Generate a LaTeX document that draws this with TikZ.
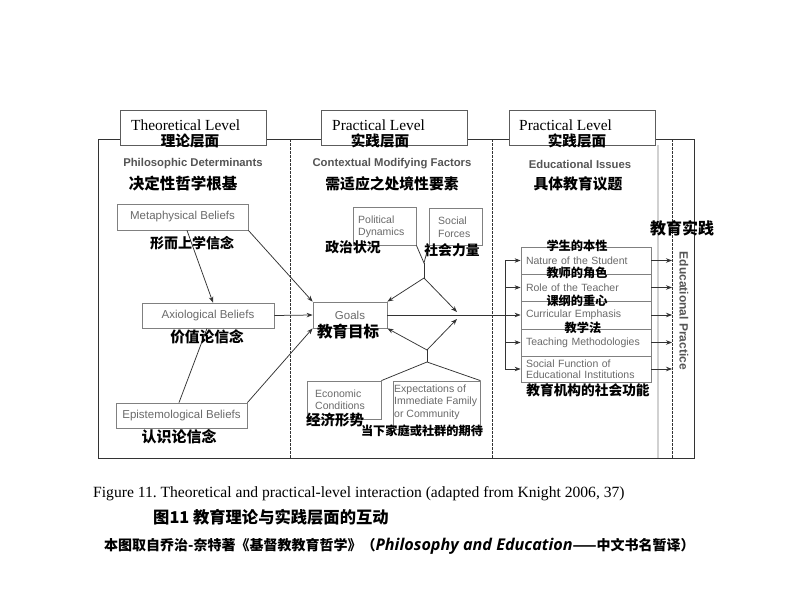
\documentclass[tikz,border=0pt]{standalone}
\usepackage{fontspec}
\setmainfont{Liberation Serif}
\setsansfont{Liberation Sans}
\newfontfamily\cjk{Noto Sans CJK SC}
\newfontfamily\latsans{Open Sans}
\usetikzlibrary{arrows.meta}
\newcommand\zhb[2]{{\cjk\bfseries\fontsize{#1}{#1}\selectfont #2}}
\definecolor{boxtext}{HTML}{6A6A6A}
\definecolor{labgray}{HTML}{555555}
\definecolor{linec}{HTML}{333333}
\definecolor{boxline}{HTML}{808080}
\frenchspacing
\begin{document}
\begin{tikzpicture}[x=1pt,y=-1pt,
  frame/.style={draw=linec, line width=0.9pt},
  dashline/.style={draw=linec, line width=0.8pt, dash pattern=on 2.5pt off 1.5pt},
  hdr/.style={draw=linec!80, fill=white, line width=0.9pt, minimum width=146pt, minimum height=35pt, inner sep=0pt},
  hdrtxt/.style={anchor=west, inner sep=0pt, font=\fontsize{15.4}{16}\selectfont},
  sec/.style={inner sep=0pt, text=labgray, font=\sffamily\bfseries\fontsize{11.3}{12}\selectfont},
  bbox/.style={draw=boxline, fill=white, line width=0.8pt, inner sep=0pt, text=boxtext, font=\sffamily\fontsize{11.5}{12}\selectfont},
  sbox/.style={draw=boxline, fill=white, line width=0.8pt, inner sep=0pt},
  stxt/.style={anchor=west, inner sep=0pt, align=left, text=boxtext, font=\sffamily\fontsize{10.5}{12.5}\selectfont},
  rowbox/.style={draw=boxline, fill=white, line width=0.8pt, minimum width=130pt, inner xsep=5pt, inner ysep=0pt, text width=120pt, align=left, text=boxtext, font=\sffamily\fontsize{10.5}{11.5}\selectfont},
  zh/.style={inner sep=0pt},
  arr/.style={draw=linec, line width=0.75pt, -{Stealth[length=6pt,width=4.5pt]}},
  ln/.style={draw=linec, line width=0.75pt}
]
\useasboundingbox[fill=white] (0,0) rectangle (796,616);

% frame
\draw[frame] (98,139) rectangle (694,458);
\draw[black!18, line width=1.2pt] (658,145) -- (658,458);
\draw[dashline] (290,139) -- (290,458);
\draw[dashline] (492,139) -- (492,458);
\draw[dashline] (672,139) -- (672,458);
\coordinate (bx) at (505,0);
\coordinate (dx) at (672,0);

% headers
\node[hdr] (h1) at (193,127.5) {};
\node[hdr] (h2) at (394.5,127.5) {};
\node[hdr] (h3) at (582,127.5) {};
\node[hdrtxt] (h1t) at (131,125) {Theoretical Level};
\node[hdrtxt] (h2t) at (332,125) {Practical Level};
\node[hdrtxt] (h3t) at (519,125) {Practical Level};
\node[zh] (h1z) at (190,141) {\zhb{14.6}{理论层面}};
\node[zh] (h2z) at (380,141) {\zhb{14.6}{实践层面}};
\node[zh] (h3z) at (577,141) {\zhb{14.6}{实践层面}};

% section labels
\node[sec] (s1) at (193,164) {Philosophic Determinants};
\node[sec] (s2) at (392,164) {Contextual Modifying Factors};
\node[sec] (s3) at (580,164) {Educational Issues};
\node[zh] (s1z) at (183,184) {\zhb{15.5}{决定性哲学根基}};
\node[zh] (s2z) at (392,184) {\zhb{14.8}{需适应之处境性要素}};
\node[zh] (s3z) at (578,184) {\zhb{14.8}{具体教育议题}};

% philosophical beliefs
\node[bbox, minimum width=131pt, minimum height=26pt] (meta) at (182.5,217) {Metaphysical Beliefs};
\node[bbox, minimum width=132pt, minimum height=25pt] (axio) at (208,315.5) {Axiological Beliefs};
\node[bbox, minimum width=131pt, minimum height=25pt] (epis) at (181.5,415.5) {Epistemological Beliefs};
\node[bbox, minimum width=74pt, minimum height=26pt] (goals) at (350,315) {Goals};

\draw[arr] ([xshift=4.5pt]meta.south) -- ([xshift=5pt]axio.north);
\draw[arr] (meta.south east) -- (goals.north west);
\draw[arr] (axio.east) -- (goals.west);
\draw[ln] ([xshift=-2.5pt]epis.north) -- ([xshift=-1pt]axio.south);
\draw[arr] (epis.north east) -- (goals.south west);

\node[zh] (metaz) at (192,243) {\zhb{14}{形而上学信念}};
\node[zh] (axioz) at (207,337) {\zhb{14.7}{价值论信念}};
\node[zh] (episz) at (179,437) {\zhb{15}{认识论信念}};

% contextual factors
\node[sbox, minimum width=63pt, minimum height=38pt] (pol) at (384.5,226) {};
\node[sbox, minimum width=53pt, minimum height=37pt] (soc) at (455.5,226.5) {};
\node[sbox, minimum width=74pt, minimum height=38pt] (eco) at (344,400) {};
\node[sbox, minimum width=87pt, minimum height=48pt] (exp) at (436.5,405) {};
\node[stxt] (polt) at (358,227) {Political\\Dynamics};
\node[stxt] (soct) at (438,227) {Social\\Forces};
\node[stxt] (ecot) at (315,399.5) {Economic\\Conditions};
\node[stxt] (expt) at (394,402) {Expectations of\\Immediate Family\\or Community};

\coordinate (tf) at (424,263);
\coordinate (ts) at (424,278);
\coordinate (mp1) at (457,312);
\coordinate (bf) at (427,362);
\coordinate (bs) at (427,350);
\coordinate (mp2) at (457,319);
\draw[ln] (pol.south east) -- (tf) -- (soc.south west);
\draw[ln] (tf) -- (ts);
\draw[arr] (ts) -- (goals.north east);
\draw[arr] (ts) -- (mp1);
\draw[ln] (eco.north east) -- (bf) -- (exp.north east);
\draw[ln] (bf) -- (bs);
\draw[arr] (bs) -- (goals.south east);
\draw[arr] (bs) -- (mp2);

\node[zh] (polz) at (353,247) {\zhb{13.8}{政治状况}};
\node[zh] (socz) at (452,250) {\zhb{13.8}{社会力量}};
\node[zh] (goalsz) at (348,332) {\zhb{15.5}{教育目标}};
\node[zh] (ecoz) at (335,420) {\zhb{14.5}{经济形势}};
\node[zh] (expz) at (422,431) {\zhb{12.2}{当下家庭或社群的期待}};

% educational issues
\node[rowbox, minimum height=27pt] (r1) at (586,260.5) {Nature of the Student};
\node[rowbox, minimum height=27pt] (r2) at (586,287.5) {Role of the Teacher};
\node[rowbox, minimum height=28pt] (r3) at (586,315) {Curricular Emphasis};
\node[rowbox, minimum height=27pt] (r4) at (586,342.5) {Teaching Methodologies};
\node[rowbox, minimum height=26pt] (r5) at (586,369) {Social Function of\\Educational Institutions};

\draw[ln] (r1.west -| bx) -- (r5.west -| bx);
\draw[arr] (goals.east) -- (r3.west);
\foreach \r in {r1,r2,r4,r5} {
  \draw[arr] (\r.west -| bx) -- (\r.west);
}
\foreach \r in {r1,r2,r3,r4,r5} {
  \draw[arr] (\r.east) -- (\r.east -| dx);
}

\node[zh] (r1z) at (577,246) {\zhb{12.2}{学生的本性}};
\node[zh] (r2z) at (577,273) {\zhb{12.2}{教师的角色}};
\node[zh] (r3z) at (577,301) {\zhb{12.2}{课纲的重心}};
\node[zh] (r4z) at (583,328) {\zhb{12.2}{教学法}};
\node[zh] (r5z) at (588,390) {\zhb{13.7}{教育机构的社会功能}};

% educational practice
\node[zh] (epz) at (682,228) {\zhb{16}{教育实践}};
\node[inner sep=0pt, rotate=-90, text=labgray, font=\sffamily\bfseries\fontsize{12}{12}\selectfont] (ep) at (684,311) {Educational Practice};

% captions
\node[anchor=west, inner sep=0pt, font=\fontsize{15.6}{16}\selectfont] (cap1) at (93,494) {Figure 11. Theoretical and practical-level interaction (adapted from Knight 2006, 37)};
\node[anchor=west, inner sep=0pt] (cap2) at (153,517) {\zhb{16.3}{图11 教育理论与实践层面的互动}};
\node[anchor=west, inner sep=0pt] (cap3) at (104,546) {\zhb{14}{本图取自乔治-奈特著《基督教教育哲学》（}{\latsans\bfseries\itshape\fontsize{16.2}{16}\selectfont Philosophy and Education}\zhb{14}{——中文书名暂译）}};
\end{tikzpicture}
\end{document}
